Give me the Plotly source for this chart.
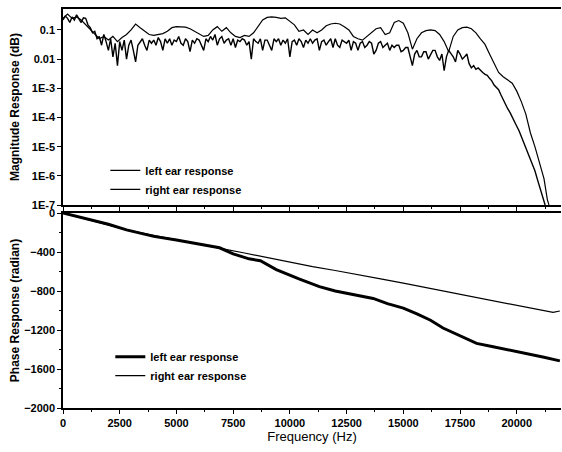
import plotly.graph_objects as go
from plotly.subplots import make_subplots

# ---------------- data ----------------
# magnitude, left ear (noisy curve), sampled every 100 Hz (one row = 1000 Hz)
mag_left_freq = list(range(0, 21201, 100)) + [21250]
mag_left = [
    0.22, 0.30, 0.25, 0.18, 0.28, 0.22, 0.33, 0.24, 0.18, 0.26,
    0.25, 0.15, 0.12, 0.08, 0.09, 0.05, 0.06, 0.03, 0.07, 0.04,
    0.02, 0.05, 0.012, 0.035, 0.006, 0.04, 0.02, 0.045, 0.01, 0.03,
    0.045, 0.02, 0.008, 0.03, 0.04, 0.05, 0.03, 0.02, 0.045, 0.035,
    0.045, 0.03, 0.055, 0.04, 0.02, 0.05, 0.035, 0.05, 0.03, 0.045,
    0.04, 0.06, 0.035, 0.03, 0.05, 0.04, 0.018, 0.045, 0.035, 0.05,
    0.045, 0.03, 0.02, 0.05, 0.04, 0.06, 0.045, 0.07, 0.03, 0.05,
    0.06, 0.035, 0.045, 0.05, 0.03, 0.05, 0.025, 0.045, 0.04, 0.05,
    0.045, 0.03, 0.04, 0.01, 0.05, 0.04, 0.035, 0.05, 0.02, 0.045,
    0.045, 0.03, 0.02, 0.05, 0.04, 0.05, 0.03, 0.045, 0.035, 0.05,
    0.012, 0.04, 0.045, 0.03, 0.05, 0.04, 0.025, 0.045, 0.035, 0.05,
    0.035, 0.045, 0.05, 0.02, 0.04, 0.045, 0.03, 0.04, 0.05, 0.025,
    0.05, 0.03, 0.025, 0.045, 0.04, 0.035, 0.045, 0.02, 0.04, 0.035,
    0.02, 0.035, 0.04, 0.025, 0.03, 0.04, 0.035, 0.015, 0.02, 0.035,
    0.04, 0.025, 0.03, 0.035, 0.02, 0.03, 0.025, 0.03, 0.03, 0.018,
    0.02, 0.025, 0.025, 0.012, 0.006, 0.015, 0.02, 0.012, 0.012, 0.018,
    0.018, 0.01, 0.015, 0.02, 0.02, 0.012, 0.009, 0.015, 0.004, 0.012,
    0.02, 0.015, 0.012, 0.008, 0.02, 0.015, 0.01, 0.012, 0.015, 0.007,
    0.005, 0.006, 0.0045, 0.005, 0.004, 0.0035, 0.003, 0.0028, 0.0022, 0.0018,
    0.0013, 0.0011, 9e-4, 6e-4, 4e-4, 3e-4, 2e-4, 1.5e-4, 1e-4, 7e-5,
    5e-5, 3.5e-5, 2.2e-5, 1.5e-5, 1.0e-5, 6e-6, 4e-6, 2.5e-6, 1.5e-6, 8e-7,
    4.3e-7, 2.2e-7, 1.2e-7,
    1e-7,
]

# magnitude, right ear (curve with arcs), sampled every 200 Hz
mag_right_freq = list(range(0, 21201, 200)) + [21350, 21420]
mag_right = [
    0.25, 0.35, 0.25, 0.28, 0.22, 0.15, 0.10, 0.07, 0.05, 0.06,
    0.045, 0.06, 0.04, 0.055, 0.07, 0.10, 0.16, 0.12, 0.09, 0.07,
    0.065, 0.07, 0.075, 0.09, 0.12, 0.13, 0.13, 0.125, 0.11, 0.09,
    0.07, 0.06, 0.065, 0.10, 0.13, 0.09, 0.12, 0.08, 0.06, 0.055,
    0.065, 0.06, 0.08, 0.14, 0.22, 0.27, 0.28, 0.27, 0.25, 0.26,
    0.20, 0.15, 0.09, 0.10, 0.07, 0.10, 0.08, 0.10, 0.14, 0.16,
    0.17, 0.16, 0.13, 0.10, 0.06, 0.05, 0.045, 0.06, 0.08, 0.11,
    0.12, 0.07, 0.08, 0.18, 0.21, 0.17, 0.08, 0.022, 0.05, 0.08,
    0.095, 0.10, 0.095, 0.07, 0.04, 0.018, 0.06, 0.10, 0.12, 0.125,
    0.11, 0.08, 0.05, 0.032, 0.015, 0.007, 0.0035, 0.0025, 0.002, 0.0015,
    8e-4, 3.5e-4, 1.3e-4, 3e-5, 1e-5, 3e-6, 8e-7, 1.5e-7, 1e-7,
]

# phase (radian)
phase_left_freq = [0, 1000, 2000, 2800, 3500, 4000, 5000, 6000, 6900, 7500,
                   8200, 8700, 9400, 10400, 11300, 12000, 12800, 13670, 14300,
                   15000, 15600, 16200, 16750, 17500, 18230, 18960, 19700,
                   20440, 21200, 21900]
phase_left = [0, -55, -115, -173, -210, -240, -277, -320, -357, -420,
              -470, -490, -580, -675, -755, -800, -840, -876, -930,
              -975, -1035, -1100, -1180, -1260, -1337, -1371, -1405,
              -1441, -1480, -1517]

phase_right_freq = [0, 1000, 2000, 2800, 4000, 5000, 6000, 7000, 8000, 9000,
                    10000, 11000, 12000, 13000, 14000, 15000, 16000, 17000,
                    18000, 19000, 20000, 21000, 21600, 21900]
phase_right = [0, -60, -118, -173, -230, -277, -322, -366, -410, -458,
               -505, -550, -590, -630, -675, -720, -765, -810,
               -855, -900, -945, -990, -1020, -1005]

x_ticks = [0, 2500, 5000, 7500, 10000, 12500, 15000, 17500, 20000]
mag_ticks = [1e-7, 1e-6, 1e-5, 1e-4, 1e-3, 0.01, 0.1]
mag_tick_labels = ["1E-7", "1E-6", "1E-5", "1E-4", "1E-3", "0.01", "0.1"]
phase_ticks = [0, -400, -800, -1200, -1600, -2000]

# ---------------- figure ----------------
FONT = "Liberation Sans"
fig = make_subplots(rows=2, cols=1, shared_xaxes=False, vertical_spacing=0.02)

fig.add_trace(go.Scatter(x=mag_left_freq, y=mag_left, mode="lines",
                         name="left ear response",
                         line=dict(color="black", width=1.4),
                         legend="legend"), row=1, col=1)
fig.add_trace(go.Scatter(x=mag_right_freq, y=mag_right, mode="lines",
                         name="right ear response",
                         line=dict(color="black", width=1.2),
                         legend="legend"), row=1, col=1)
fig.add_trace(go.Scatter(x=phase_left_freq, y=phase_left, mode="lines",
                         name="left ear response",
                         line=dict(color="black", width=3),
                         legend="legend2"), row=2, col=1)
fig.add_trace(go.Scatter(x=phase_right_freq, y=phase_right, mode="lines",
                         name="right ear response",
                         line=dict(color="black", width=1.2),
                         legend="legend2"), row=2, col=1)

H_PLOT = 399.0
top_dom = [(408 - 205) / H_PLOT, 1.0]
bot_dom = [0.0, 195 / H_PLOT]

tickfont = dict(family=FONT, size=11, color="black", weight="bold")
titlefont = dict(family=FONT, size=12, color="black", weight="bold")

common_x = dict(range=[0, 21950], tickvals=x_ticks, tickformat="d", showgrid=False,
                zeroline=False, automargin=False,
                showline=True, linecolor="black", linewidth=1.5, mirror=True,
                ticks="outside", ticklen=4, tickwidth=1, tickcolor="black",
                minor=dict(dtick=1250, tick0=0, ticks="outside", ticklen=2,
                           tickcolor="black"))

fig.update_layout(
    width=562, height=452, autosize=False,
    margin=dict(l=63, r=1, t=9, b=44),
    plot_bgcolor="white", paper_bgcolor="white",
    xaxis=dict(**common_x, domain=[0, 1], showticklabels=False),
    xaxis2=dict(**common_x, domain=[0, 1], showticklabels=True, tickfont=tickfont,
                title=dict(text="Frequency (Hz)", font=dict(family=FONT, size=13,
                                                           color="black"),
                           standoff=2)),
    yaxis=dict(type="log", range=[-7, -0.281], domain=top_dom, automargin=False,
               tickvals=mag_ticks, ticktext=mag_tick_labels, tickfont=tickfont,
               showgrid=False, zeroline=False, showline=True, linecolor="black",
               linewidth=1.5, ticks="outside", ticklen=4, tickcolor="black",
               title=dict(text="Magnitude Response (dB)", font=titlefont, standoff=10)),
    yaxis2=dict(range=[-2000, 0], domain=bot_dom, tickvals=phase_ticks,
                automargin=False,
                tickfont=tickfont, showgrid=False, zeroline=False, showline=True,
                linecolor="black", linewidth=1.5, ticks="outside", ticklen=4,
                tickcolor="black",
                minor=dict(dtick=200, ticks="outside", ticklen=2, tickcolor="black"),
                title=dict(text="Phase Response (radian)", font=titlefont, standoff=2)),
    legend=dict(x=0.085, y=0.632, xanchor="left", yanchor="top",
                bgcolor="rgba(0,0,0,0)", font=dict(family=FONT, size=11,
                                                    color="black", weight="bold"),
                tracegroupgap=0, itemwidth=30),
    legend2=dict(x=0.095, y=0.165, xanchor="left", yanchor="top",
                 bgcolor="rgba(0,0,0,0)", font=dict(family=FONT, size=11,
                                                     color="black", weight="bold"),
                 tracegroupgap=0, itemwidth=30),
    showlegend=True,
)

post = ("document.body.style.margin='0';document.body.style.padding='0';"
        "var gd=document.getElementById('{plot_id}');"
        "Plotly.relayout(gd,{width:562,height:452});")
fig.write_html("out.html",
               config={"responsive": False, "displayModeBar": False},
               post_script=post)
